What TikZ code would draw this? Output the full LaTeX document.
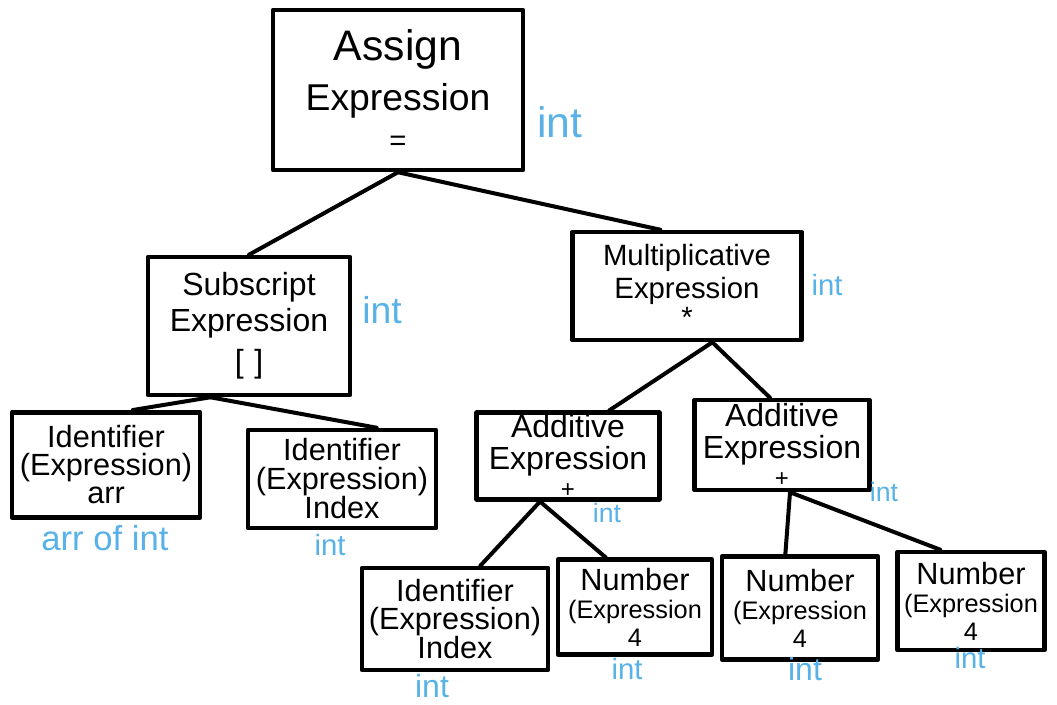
\documentclass[tikz,border=0pt]{standalone}
\usepackage{fontspec}
\setmainfont{Liberation Sans}
\definecolor{typeblue}{RGB}{88,178,232}
\tikzset{
  box/.style={draw=black, line width=3.4pt, rectangle, align=center, inner sep=0pt, line join=round},
  edge/.style={draw=black, line width=3pt, line cap=round},
  tlabel/.style={text=typeblue, inner sep=0pt, anchor=center},
}
\newcommand{\fsz}[2]{\fontsize{#1}{#2}\selectfont}
\begin{document}
\begin{tikzpicture}[x=0.75pt,y=-0.75pt]
\useasboundingbox (0,0) rectangle (1057,705);
% boxes
\node[box, minimum width=187.5pt, minimum height=120pt, font=\fsz{28}{38}] (assign) at (398,90)
  {{\fsz{32}{38}Assign}\\Expression\\[-8pt]{\fsz{22}{26}=}};
\node[box, minimum width=151.5pt, minimum height=103.5pt, font=\fsz{24}{27}] (sub) at (249,326)
  {Subscript\\Expression\\[4pt][\,\,]};
\node[box, minimum width=172pt, minimum height=81pt, font=\fsz{22}{25}] (mult) at (687,286)
  {Multiplicative\\Expression\\[-3pt]*};
\node[box, minimum width=141pt, minimum height=79pt, font=\fsz{23}{21}] (id1) at (106,465)
  {Identifier\\(Expression)\\arr};
\node[box, minimum width=141pt, minimum height=73.5pt, font=\fsz{23}{21}] (id2) at (342,479)
  {Identifier\\(Expression)\\Index};
\node[box, minimum width=137pt, minimum height=65pt, font=\fsz{24}{24}] (add1) at (568,456)
  {Additive\\Expression\\[-3pt]{\fsz{18}{18}+}};
\node[box, minimum width=131pt, minimum height=67.5pt, font=\fsz{24}{24}] (add2) at (782,445)
  {Additive\\Expression\\[-3pt]{\fsz{18}{18}+}};
\node[box, minimum width=139.5pt, minimum height=76.5pt, font=\fsz{23}{21}] (id3) at (455,619)
  {Identifier\\(Expression)\\Index};
\node[box, minimum width=115.5pt, minimum height=71pt, font=\fsz{19}{21}] (num1) at (635,607)
  {{\fsz{23}{21}Number}\\(Expression\\4};
\node[box, minimum width=117pt, minimum height=77pt, font=\fsz{19}{21}] (num2) at (800,608)
  {{\fsz{23}{21}Number}\\(Expression\\4};
\node[box, minimum width=110pt, minimum height=73.5pt, font=\fsz{19}{21}] (num3) at (971,601)
  {{\fsz{23}{21}Number}\\(Expression\\4};
% connectors
\draw[edge] (assign.south) -- (sub.north);
\draw[edge] (assign.south) -- ([xshift=-20pt]mult.north);
\draw[edge] ([xshift=-29pt]sub.south) -- ([xshift=20pt]id1.north);
\draw[edge] ([xshift=-29pt]sub.south) -- ([xshift=26pt]id2.north);
\draw[edge] ([xshift=19pt]mult.south) -- ([xshift=31pt]add1.north);
\draw[edge] ([xshift=19pt]mult.south) -- ([xshift=-9pt]add2.north);
\draw[edge] ([xshift=-21pt]add1.south) -- ([xshift=19pt]id3.north);
\draw[edge] ([xshift=-21pt]add1.south) -- ([xshift=-22pt]num1.north);
\draw[edge] ([xshift=6pt]add2.south) -- ([xshift=-11pt]num2.north);
\draw[edge] ([xshift=6pt]add2.south) -- ([xshift=-23pt]num3.north);
% type labels
\node[tlabel, font=\fsz{32}{32}] (tassign) at (560,122) {int};
\node[tlabel, font=\fsz{28}{28}] (tsub) at (382,310) {int};
\node[tlabel, font=\fsz{22}{22}] (tmult) at (827,285) {int};
\node[tlabel, font=\fsz{26}{26}] (tid1) at (105,538) {arr of int};
\node[tlabel, font=\fsz{22}{22}] (tid2) at (330,545) {int};
\node[tlabel, font=\fsz{20}{20}] (tadd1) at (607,513) {int};
\node[tlabel, font=\fsz{20}{20}] (tadd2) at (884,492) {int};
\node[tlabel, font=\fsz{24}{24}] (tid3) at (432,686) {int};
\node[tlabel, font=\fsz{22}{22}] (tnum1) at (627,669) {int};
\node[tlabel, font=\fsz{24}{24}] (tnum2) at (805,669) {int};
\node[tlabel, font=\fsz{22}{22}] (tnum3) at (970,658) {int};
\end{tikzpicture}
\end{document}
